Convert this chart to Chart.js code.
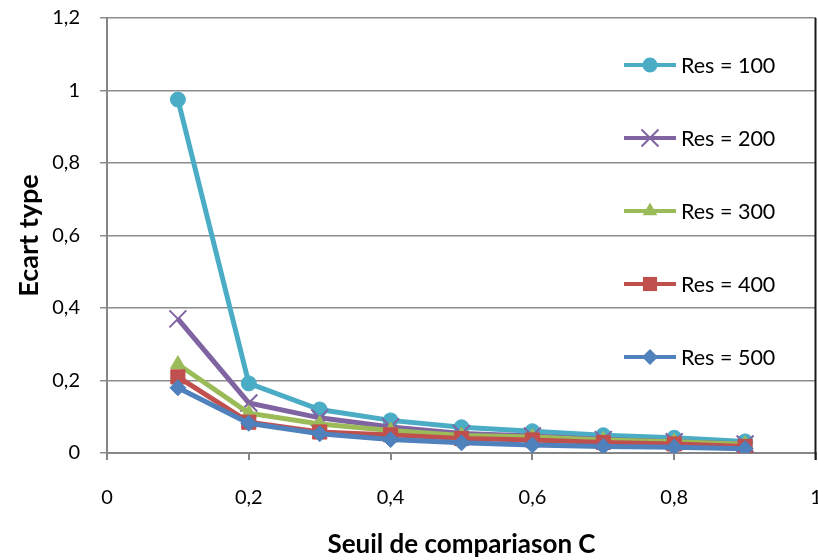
<!DOCTYPE html>
<html><head><meta charset="utf-8">
<script src="https://cdn.jsdelivr.net/npm/chart.js@4/dist/chart.umd.min.js"></script>
<style>
html,body{margin:0;padding:0;background:#fff;overflow:hidden}
#wrap{width:818px;height:560px;overflow:hidden;position:relative}
</style></head><body>
<div id="wrap"><canvas id="c" width="840" height="560" style="width:840px;height:560px"></canvas></div>
<script>
const thresholds = [0.1, 0.2, 0.3, 0.4, 0.5, 0.6, 0.7, 0.8, 0.9];
const seriesLabels = ['Res = 100', 'Res = 200', 'Res = 300', 'Res = 400', 'Res = 500'];
const res100 = [0.975, 0.192, 0.120, 0.090, 0.071, 0.060, 0.049, 0.042, 0.032];
const res200 = [0.370, 0.138, 0.097, 0.072, 0.054, 0.047, 0.037, 0.031, 0.025];
const res300 = [0.245, 0.110, 0.080, 0.062, 0.048, 0.044, 0.036, 0.031, 0.024];
const res400 = [0.210, 0.085, 0.058, 0.050, 0.040, 0.036, 0.029, 0.025, 0.018];
const res500 = [0.180, 0.082, 0.053, 0.037, 0.028, 0.022, 0.018, 0.016, 0.012];
const xTicks = [0, 0.2, 0.4, 0.6, 0.8, 1];
const yTicks = [0, 0.2, 0.4, 0.6, 0.8, 1, 1.2];
const xTitle = 'Seuil de compariason C';
const yTitle = 'Ecart type';

const colors = ['#4BACC6', '#8064A2', '#9BBB59', '#C0504D', '#4F81BD'];
const styles = ['circle', 'crossRot', 'triangle', 'rect', 'rectRot'];
const radii = [7.5, 12, 8.5, 10, 8];
const allSeries = [res100, res200, res300, res400, res500];

const fmt = v => String(Math.round(v * 10) / 10).replace('.', ',');

const datasets = allSeries.map((vals, i) => ({
  label: seriesLabels[i],
  data: thresholds.map((x, j) => ({x: x, y: vals[j]})),
  borderColor: colors[i],
  backgroundColor: colors[i],
  pointBackgroundColor: colors[i],
  pointBorderColor: colors[i],
  pointBorderWidth: styles[i] === 'crossRot' ? 2 : 1,
  pointStyle: styles[i],
  pointRadius: radii[i],
  borderWidth: 5,
  tension: 0,
  order: allSeries.length - i
}));

function marker(ctx, style, r, x, y, color) {
  ctx.save();
  ctx.fillStyle = color; ctx.strokeStyle = color; ctx.lineWidth = style === 'crossRot' ? 2 : 1;
  ctx.beginPath();
  if (style === 'circle') { ctx.arc(x, y, r, 0, Math.PI * 2); ctx.fill(); }
  else if (style === 'crossRot') { const d = r * Math.SQRT1_2; ctx.moveTo(x - d, y - d); ctx.lineTo(x + d, y + d); ctx.moveTo(x + d, y - d); ctx.lineTo(x - d, y + d); ctx.stroke(); }
  else if (style === 'triangle') { for (let k = 0; k < 3; k++) { const a = k * 2 * Math.PI / 3; const px = x + Math.sin(a) * r, py = y - Math.cos(a) * r; k ? ctx.lineTo(px, py) : ctx.moveTo(px, py); } ctx.closePath(); ctx.fill(); }
  else if (style === 'rect') { const s = r * Math.SQRT1_2; ctx.rect(x - s, y - s, 2 * s, 2 * s); ctx.fill(); }
  else if (style === 'rectRot') { ctx.moveTo(x - r, y); ctx.lineTo(x, y - r); ctx.lineTo(x + r, y); ctx.lineTo(x, y + r); ctx.closePath(); ctx.fill(); }
  ctx.restore();
}

const legendPlugin = {
  id: 'inlegend',
  afterDraw(chart) {
    const ctx = chart.ctx, a = chart.chartArea;
    ctx.save();
    ctx.strokeStyle = '#1a1a1a'; ctx.lineWidth = 2;
    ctx.beginPath(); ctx.moveTo(a.right - 0.5, a.top); ctx.lineTo(a.right - 0.5, a.bottom + 7); ctx.stroke();
    ctx.restore();
    chart.data.datasets.forEach((ds, i) => {
      const y = a.top + 47 + i * 73;
      ctx.save();
      ctx.strokeStyle = ds.borderColor; ctx.lineWidth = 4;
      ctx.beginPath(); ctx.moveTo(624, y); ctx.lineTo(676, y); ctx.stroke();
      marker(ctx, ds.pointStyle, ds.pointRadius, 650, y, ds.borderColor);
      ctx.fillStyle = '#000'; ctx.font = '21.5px Lato'; ctx.textBaseline = 'middle'; ctx.textAlign = 'left';
      ctx.fillText(ds.label, 681, y + 1);
      ctx.restore();
    });
  }
};

new Chart(document.getElementById('c'), {
  type: 'line',
  data: {datasets: datasets},
  plugins: [legendPlugin],
  options: {
    responsive: false, animation: false, devicePixelRatio: 1,
    layout: {padding: {top: 18, right: 24, left: 0, bottom: 0}},
    plugins: {legend: {display: false}, tooltip: {enabled: false}},
    scales: {
      x: {
        type: 'linear', min: 0, max: 1,
        afterBuildTicks: s => { s.ticks = xTicks.map(v => ({value: v})); },
        afterFit: s => { s.height = 107; s.paddingLeft = 0; s.paddingRight = 0; },
        ticks: {callback: v => fmt(v), font: {family: 'Lato', size: 20}, color: '#000', padding: 26, maxRotation: 0},
        grid: {drawOnChartArea: false, drawTicks: true, tickLength: 7, color: '#868686', lineWidth: 2},
        border: {color: '#868686', width: 2},
        title: {display: true, text: xTitle, font: {family: 'Lato', size: 26, weight: 'bold'}, color: '#000', padding: {top: 0, bottom: 0}}
      },
      y: {
        type: 'linear', min: 0, max: 1.2,
        afterBuildTicks: s => { s.ticks = yTicks.map(v => ({value: v})); },
        afterFit: s => { s.width = 107; s.paddingTop = 0; s.paddingBottom = 0; },
        ticks: {callback: v => fmt(v), font: {family: 'Lato', size: 20}, color: '#000', padding: 20},
        grid: {color: '#8c8c8c', lineWidth: 1.5, tickLength: 7, drawTicks: true},
        border: {color: '#868686', width: 2},
        title: {display: true, text: yTitle, font: {family: 'Lato', size: 27, weight: 'bold'}, color: '#000', padding: {top: 13, bottom: 0}}
      }
    }
  }
});
</script>
</body></html>
